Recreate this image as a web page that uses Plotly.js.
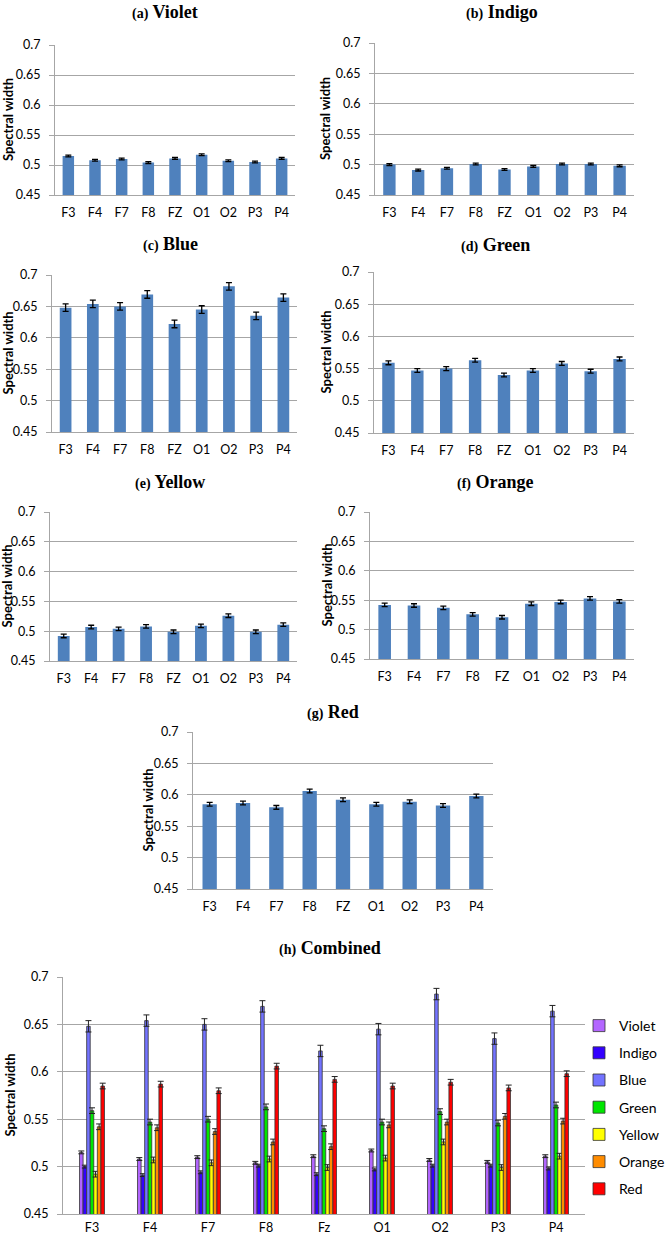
<!DOCTYPE html>
<html>
<head>
<meta charset="utf-8">
<script src="https://cdn.plot.ly/plotly-3.0.1.min.js"></script>
<style>html,body{margin:0;padding:0;background:#fff;}#chart{width:665px;height:1240px;}</style>
</head>
<body>
<div id="chart"></div>
<script>
// ---- data ----
const channels = ["F3","F4","F7","F8","FZ","O1","O2","P3","P4"];
const channelsCombined = ["F3","F4","F7","F8","Fz","O1","O2","P3","P4"];

const violet    = [0.515,0.508,0.510,0.504,0.511,0.517,0.507,0.505,0.511];
const violetErr = [0.0015,0.0015,0.0015,0.0015,0.0015,0.0015,0.0015,0.0015,0.0015];
const indigo    = [0.500,0.491,0.494,0.501,0.492,0.497,0.501,0.501,0.498];
const indigoErr = [0.0015,0.0015,0.0015,0.0015,0.0015,0.0015,0.0015,0.0015,0.0015];
const blue      = [0.648,0.654,0.650,0.669,0.622,0.645,0.682,0.635,0.664];
const blueErr   = [0.006,0.006,0.006,0.006,0.006,0.006,0.006,0.006,0.006];
const green     = [0.559,0.547,0.550,0.563,0.540,0.547,0.558,0.546,0.565];
const greenErr  = [0.003,0.003,0.003,0.003,0.003,0.003,0.003,0.003,0.003];
const yellow    = [0.492,0.507,0.504,0.508,0.499,0.509,0.526,0.499,0.511];
const yellowErr = [0.003,0.003,0.003,0.003,0.003,0.003,0.003,0.003,0.003];
const orange    = [0.542,0.541,0.537,0.526,0.521,0.544,0.547,0.553,0.548];
const orangeErr = [0.003,0.003,0.003,0.003,0.003,0.003,0.003,0.003,0.003];
const red       = [0.585,0.587,0.580,0.606,0.592,0.585,0.589,0.583,0.598];
const redErr    = [0.003,0.003,0.003,0.003,0.003,0.003,0.003,0.003,0.003];

const seriesNames = ["Violet","Indigo","Blue","Green","Yellow","Orange","Red"];
const panelLabels = ["(a)","(b)","(c)","(d)","(e)","(f)","(g)"];
const yTickVals = [0.45,0.5,0.55,0.6,0.65,0.7];
const yTickText = ["0.45","0.5","0.55","0.6","0.65","0.7"];
const yTitle = "Spectral width";
const combinedTitle = "Combined";
const combinedLabel = "(h)";

// ---- layout helpers ----
const W = 665, H = 1240;
const fx = p => p / W;
const fy = p => 1 - p / H;

const seriesVals = [violet, indigo, blue, green, yellow, orange, red];
const seriesErrs = [violetErr, indigoErr, blueErr, greenErr, yellowErr, orangeErr, redErr];
const combinedColors = ["#B366FF","#3300FF","#7373FF","#00E600","#FFFF00","#FF8C00","#FF0000"];

// panel boxes in pixels: left, right, top, bottom, title pos, ytitle x, x-label standoff
const boxes = [
  {l:55, r:295, t:45, b:195, tx:165, ty:12, yx:8, so:6},
  {l:375, r:634, t:43, b:195, tx:502, ty:12, yx:325, so:6},
  {l:52, r:297, t:275, b:432, tx:170, ty:244, yx:7, so:6},
  {l:374, r:634, t:272, b:433, tx:495, ty:245, yx:325, so:6},
  {l:50, r:297, t:512, b:661, tx:170, ty:482, yx:7, so:6},
  {l:370, r:634, t:512, b:659, tx:495, ty:482, yx:326, so:6},
  {l:193, r:493, t:732, b:889, tx:333, ty:712, yx:147, so:6},
  {l:63, r:585, t:977, b:1214, tx:330, ty:948, yx:9, so:2}
];

const gridColor = "#A6A6A6";
const tickFont = {family: "Lato, 'Open Sans', sans-serif", size: 12.5, color: "#000"};
const titleFont = {family: "'Liberation Serif', 'Times New Roman', serif", size: 18, color: "#000"};
const ytFont = {family: "Lato, 'Open Sans', sans-serif", size: 13, color: "#000"};

const traces = [];
const layout = {
  width: W, height: H,
  margin: {l:0, r:0, t:0, b:0, autoexpand: false},
  paper_bgcolor: "#fff", plot_bgcolor: "#fff",
  barmode: "group", bargap: 0.57, bargroupgap: 0,
  showlegend: true,
  legend: {x: fx(579), y: fy(1010), xanchor: "left", yanchor: "top",
           font: {family: "Lato, 'Open Sans', sans-serif", size: 14, color: "#000"},
           tracegroupgap: 6, itemwidth: 30, bgcolor: "rgba(0,0,0,0)"},
  annotations: []
};

boxes.forEach((bx, i) => {
  const n = i + 1;
  const xk = n === 1 ? "xaxis" : "xaxis" + n;
  const yk = n === 1 ? "yaxis" : "yaxis" + n;
  const xr = n === 1 ? "x" : "x" + n;
  const yr = n === 1 ? "y" : "y" + n;
  layout[xk] = {
    domain: [fx(bx.l), fx(bx.r)], anchor: yr, type: "category",
    range: [-0.5, 8.5], showline: true, linecolor: gridColor, linewidth: 1,
    ticks: "", showgrid: false, tickfont: tickFont, ticklabelstandoff: bx.so,
    fixedrange: true
  };
  layout[yk] = {
    domain: [fy(bx.b), fy(bx.t)], anchor: xr, range: [0.45, 0.7],
    tickvals: yTickVals, ticktext: yTickText,
    showline: true, linecolor: gridColor, linewidth: 1,
    showgrid: true, gridcolor: gridColor, gridwidth: 1,
    ticks: "outside", ticklen: 5, tickcolor: gridColor,
    tickfont: tickFont, ticklabelstandoff: 6, zeroline: false, fixedrange: true
  };
  const label = i < 7 ? panelLabels[i] : combinedLabel;
  const name = i < 7 ? seriesNames[i] : combinedTitle;
  layout.annotations.push({
    xref: "paper", yref: "paper", x: fx(bx.tx), y: fy(bx.ty),
    xanchor: "center", yanchor: "middle", showarrow: false,
    text: "<b><span style='font-size:14px'>" + label + "</span> " + name + "</b>",
    font: titleFont
  });
  layout.annotations.push({
    xref: "paper", yref: "paper", x: fx(bx.yx), y: fy((bx.t + bx.b) / 2),
    xanchor: "center", yanchor: "middle", showarrow: false, textangle: -90,
    text: "<b>" + yTitle + "</b>", font: ytFont
  });
  if (i < 7) {
    traces.push({
      type: "bar", x: channels, y: seriesVals[i], xaxis: xr, yaxis: yr,
      marker: {color: "#4F81BD", line: {width: 0}},
      error_y: {type: "data", array: seriesErrs[i], visible: true,
                color: "#000", thickness: 1.3, width: 3},
      showlegend: false, hoverinfo: "skip"
    });
  } else {
    seriesNames.forEach((nm, k) => {
      traces.push({
        type: "bar", name: nm, x: channelsCombined, y: seriesVals[k],
        xaxis: xr, yaxis: yr, legendgroup: nm,
        marker: {color: combinedColors[k], line: {color: "#333", width: 0.8}},
        error_y: {type: "data", array: seriesErrs[k], visible: true,
                  color: "#222", thickness: 1, width: 3},
        showlegend: true
      });
    });
  }
});

Plotly.newPlot("chart", traces, layout, {displayModeBar: false, staticPlot: true});
</script>
</body>
</html>
